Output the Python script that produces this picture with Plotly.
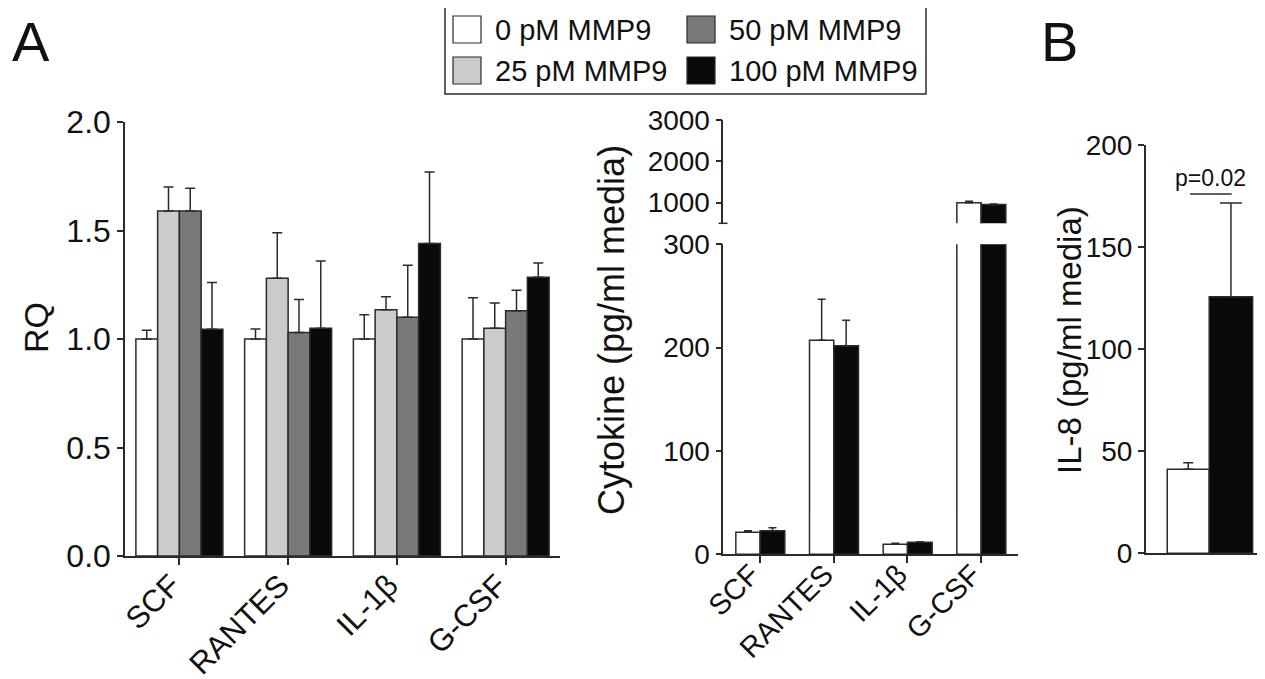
import plotly.graph_objects as go

W, H = 1265, 679
BODY = 8  # default page margin of the html body

# ---------------- data ----------------
genes = ["SCF", "RANTES", "IL-1β", "G-CSF"]
series_names = ["0 pM MMP9", "25 pM MMP9", "50 pM MMP9", "100 pM MMP9"]
series_colors = ["#ffffff", "#cbcbcb", "#797979", "#0a0a0c"]

# Panel A (left): RQ
rq_0 = [1.00, 1.00, 1.00, 1.00]
rq_25 = [1.59, 1.28, 1.135, 1.05]
rq_50 = [1.59, 1.03, 1.10, 1.13]
rq_100 = [1.045, 1.05, 1.44, 1.285]
rq_0_err = [0.04, 0.046, 0.112, 0.19]
rq_25_err = [0.11, 0.21, 0.06, 0.116]
rq_50_err = [0.105, 0.152, 0.24, 0.095]
rq_100_err = [0.215, 0.31, 0.33, 0.065]

# Panel A (middle): cytokine (pg/ml media)
cyto_0 = [21.3, 207.2, 9.7, 1000]
cyto_0_err = [1.6, 39.6, 0.9, 35]
cyto_100 = [22.9, 201.9, 11.6, 952]
cyto_100_err = [2.9, 24.6, 0.6, 16]
cyto_low_ticks = [0, 100, 200, 300]
cyto_high_ticks = [1000, 2000, 3000]

# Panel B: IL-8 (pg/ml media)
il8_cat = ["IL-8"]
il8_0 = [41.2]
il8_0_err = [3.2]
il8_100 = [125.7]
il8_100_err = [45.9]
p_text = "p=0.02"
p_level = 176

# ---------------- helpers (screen pixel -> paper fraction) ----------------
def px(x):
    return (x - BODY) / W

def py(y):
    return 1 - (y - BODY) / H

LINE = "#2b2b2b"
FONT = "Liberation Sans, Arial, Helvetica, sans-serif"

fig = go.Figure()

rq_vals = [rq_0, rq_25, rq_50, rq_100]
rq_errs = [rq_0_err, rq_25_err, rq_50_err, rq_100_err]
for name, col, v, e in zip(series_names, series_colors, rq_vals, rq_errs):
    fig.add_trace(go.Bar(
        x=genes, y=v, name=name, xaxis="x", yaxis="y", showlegend=False,
        marker=dict(color=col, line=dict(color=LINE, width=1.5)),
        error_y=dict(type="data", symmetric=False, array=e, arrayminus=[0] * len(e),
                     color=LINE, thickness=1.5, width=5),
    ))

# middle panel: lower and upper segments of the broken axis
for xa, ya in [("x2", "y2"), ("x3", "y3")]:
    fig.add_trace(go.Bar(
        x=genes, y=cyto_0, name=series_names[0], xaxis=xa, yaxis=ya, showlegend=False,
        offset=-0.33, width=0.33,
        marker=dict(color=series_colors[0], line=dict(color=LINE, width=1.5)),
        error_y=dict(type="data", symmetric=False, array=cyto_0_err, arrayminus=[0] * 4,
                     color=LINE, thickness=1.5, width=4),
    ))
    fig.add_trace(go.Bar(
        x=genes, y=cyto_100, name=series_names[3], xaxis=xa, yaxis=ya, showlegend=False,
        offset=0.0, width=0.335,
        marker=dict(color=series_colors[3], line=dict(color=LINE, width=1.5)),
        error_y=dict(type="data", symmetric=False, array=cyto_100_err, arrayminus=[0] * 4,
                     color=LINE, thickness=1.5, width=4),
    ))

# panel B
fig.add_trace(go.Bar(
    x=il8_cat, y=il8_0, name=series_names[0], xaxis="x4", yaxis="y4", showlegend=False,
    offset=-0.318, width=0.355,
    marker=dict(color=series_colors[0], line=dict(color=LINE, width=1.5)),
    error_y=dict(type="data", symmetric=False, array=il8_0_err, arrayminus=[0],
                 color=LINE, thickness=1.5, width=5),
))
fig.add_trace(go.Bar(
    x=il8_cat, y=il8_100, name=series_names[3], xaxis="x4", yaxis="y4", showlegend=False,
    offset=0.037, width=0.367,
    marker=dict(color=series_colors[3], line=dict(color=LINE, width=1.5)),
    error_y=dict(type="data", symmetric=False, array=il8_100_err, arrayminus=[0],
                 color=LINE, thickness=1.5, width=11),
))

axis_common = dict(showline=True, linecolor=LINE, linewidth=1.5, showgrid=False,
                   zeroline=False, ticks="outside", tickwidth=1.5,
                   tickcolor=LINE, automargin=False)

fig.update_layout(
    template="none",
    width=W, height=H,
    margin=dict(l=0, r=0, t=0, b=0, pad=0),
    paper_bgcolor="white", plot_bgcolor="white",
    font=dict(family=FONT, color="#111111"),
    barmode="group", bargap=0.2, bargroupgap=0,
    showlegend=False,
    xaxis=dict(domain=[px(125), px(560)], anchor="y", range=[-0.5, 3.5],
               tickangle=-45, tickfont=dict(size=31), ticklen=7,
               ticklabelstandoff=-10, ticklabelshift=-8, **axis_common),
    yaxis=dict(domain=[py(556), py(122)], anchor="x", range=[0, 2],
               tickvals=[0, 0.5, 1.0, 1.5, 2.0], tickformat=".1f", ticklen=6,
               tickfont=dict(size=32), **axis_common),
    xaxis2=dict(domain=[px(723.3), px(1018)], anchor="y2", range=[-0.5, 3.5],
                tickangle=-45, tickfont=dict(size=29), ticklen=7,
                ticklabelstandoff=-17, ticklabelshift=-9, **axis_common),
    yaxis2=dict(domain=[py(554.3), py(244.3)], anchor="x2", range=[0, 300], ticklen=6,
                tickvals=cyto_low_ticks, tickfont=dict(size=28), **axis_common),
    xaxis3=dict(domain=[px(723.3), px(1018)], anchor="y3", range=[-0.5, 3.5],
                matches="x2", visible=False, automargin=False),
    yaxis3=dict(domain=[py(223.3), py(120)], anchor="x3", range=[500, 3000], ticklen=6,
                tickvals=cyto_high_ticks, tickfont=dict(size=28), **axis_common),
    xaxis4=dict(domain=[px(1145.7), px(1264)], anchor="y4", range=[-0.5, 0.5],
                showticklabels=False, showline=True, linecolor=LINE, linewidth=1.5,
                showgrid=False, zeroline=False, ticks="", automargin=False),
    yaxis4=dict(domain=[py(553.3), py(145)], anchor="x4", range=[0, 200], ticklen=6,
                tickvals=[0, 50, 100, 150, 200], tickfont=dict(size=28), **axis_common),
)

shapes = []
annotations = []

# break mark at the bottom of the upper segment
shapes.append(dict(type="line", xref="paper", yref="paper",
                   x0=px(718.5), x1=px(727.5), y0=py(223.3), y1=py(223.3),
                   line=dict(color=LINE, width=1.5)))

# significance line panel B
shapes.append(dict(type="line", xref="x4", yref="y4", x0=-0.125, x1=0.227,
                   y0=p_level, y1=p_level, line=dict(color=LINE, width=1.5)))
annotations.append(dict(xref="x4", yref="y4", x=0.05, y=p_level, text=p_text,
                        showarrow=False, yanchor="bottom", yshift=1,
                        font=dict(size=23, family=FONT, color="#111")))

# legend box (manual, to keep large square swatches)
shapes.append(dict(type="rect", xref="paper", yref="paper",
                   x0=px(445), x1=px(926), y0=py(94), y1=py(5),
                   line=dict(color=LINE, width=1.5), fillcolor="white", layer="below"))
legend_pos = [(453, 16), (453, 57), (687, 16), (687, 57)]  # 0, 25, 50, 100 pM
for (lx, ly), name, col in zip(legend_pos, series_names, series_colors):
    shapes.append(dict(type="rect", xref="paper", yref="paper",
                       x0=px(lx), x1=px(lx + 28), y0=py(ly + 27), y1=py(ly),
                       line=dict(color=LINE, width=1.2), fillcolor=col))
    annotations.append(dict(xref="paper", yref="paper", x=px(lx + 40), y=py(ly + 14),
                            text=name, showarrow=False, xanchor="left", yanchor="middle",
                            font=dict(size=29, family=FONT, color="#111")))

# axis titles
annotations.append(dict(xref="paper", yref="paper", x=px(36), y=py(328), text="RQ",
                        textangle=-90, showarrow=False, xanchor="center", yanchor="middle",
                        font=dict(size=34, family=FONT, color="#111")))
annotations.append(dict(xref="paper", yref="paper", x=px(611), y=py(330),
                        text="Cytokine (pg/ml media)", textangle=-90, showarrow=False,
                        xanchor="center", yanchor="middle",
                        font=dict(size=36, family=FONT, color="#111")))
annotations.append(dict(xref="paper", yref="paper", x=px(1069), y=py(340),
                        text="IL-8 (pg/ml media)", textangle=-90, showarrow=False,
                        xanchor="center", yanchor="middle",
                        font=dict(size=33, family=FONT, color="#111")))

# panel letters
annotations.append(dict(xref="paper", yref="paper", x=px(11), y=py(41), text="A",
                        showarrow=False, xanchor="left", yanchor="middle", borderpad=0,
                        font=dict(size=56, family=FONT, color="#111")))
annotations.append(dict(xref="paper", yref="paper", x=px(1059), y=py(41), text="B",
                        showarrow=False, xanchor="center", yanchor="middle", borderpad=0,
                        font=dict(size=56, family=FONT, color="#111")))

fig.update_layout(shapes=shapes, annotations=annotations)

fig.write_html("out.html")
